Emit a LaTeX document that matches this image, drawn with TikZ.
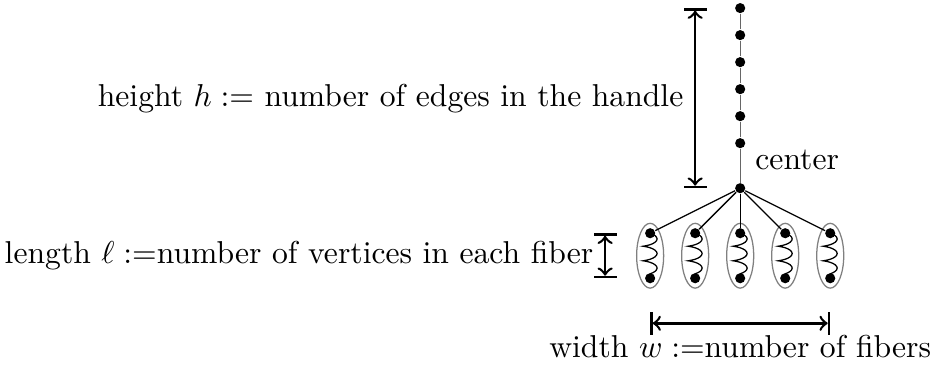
\documentclass[tikz,border=0pt]{standalone}
\usepackage{tikz}
\usepackage{amsmath}
\usetikzlibrary{decorations.pathmorphing, positioning}

\begin{document}
\begin{tikzpicture}[
  dot/.style={circle, fill=black, inner sep=0pt, minimum size=3.2pt},
  measure/.style={thick, |<->|},
  spring/.style={decorate, decoration={coil, aspect=0.3, amplitude=2.2pt, segment length=4.6pt}}
]
  \useasboundingbox (-8.22,-2.01) rectangle (2.13,2.09);

  % center and handle
  \node[dot] (c) at (0,0) {};
  \node[above right=1pt and 0pt of c] (clabel) {center};
  \foreach \i/\y in {1/0.5, 2/0.8, 3/1.1, 4/1.4, 5/1.7, 6/2.0}
    \node[dot] (h\i) at (0,\y) {};
  \draw[black!60] (c) -- (h1) -- (h2) -- (h3) -- (h4) -- (h5) -- (h6);

  % fibers
  \foreach \i/\x in {1/-1, 2/-0.5, 3/0, 4/0.5, 5/1} {
    \draw[gray] (\x,-0.75) ellipse (0.15 and 0.36);
    \node[dot] (t\i) at (\x,-0.5) {};
    \node[dot] (b\i) at (\x,-1) {};
    \draw[spring] (t\i.center) -- (b\i.center);
    \draw (c) -- (t\i);
  }

  % height
  \coordinate (hlow) at (-0.5,0);
  \coordinate (hup) at (-0.5,2);
  \draw[measure] (hlow) -- (hup) node[midway, left] (hlabel) {height $h :=$ number of edges in the handle};

  % length
  \coordinate (ltop) at (-1.5,-0.5);
  \coordinate (lbot) at (-1.5,-1);
  \draw[measure] (lbot) -- (ltop) node[midway, left] (llabel) {length $\ell :=$number of vertices in each fiber};

  % width
  \coordinate (wleft) at (-1,-1.5);
  \coordinate (wright) at (1,-1.5);
  \draw[measure] (wleft) -- (wright) node[midway, below] (wlabel) {width $w :=$number of fibers};
\end{tikzpicture}
\end{document}
